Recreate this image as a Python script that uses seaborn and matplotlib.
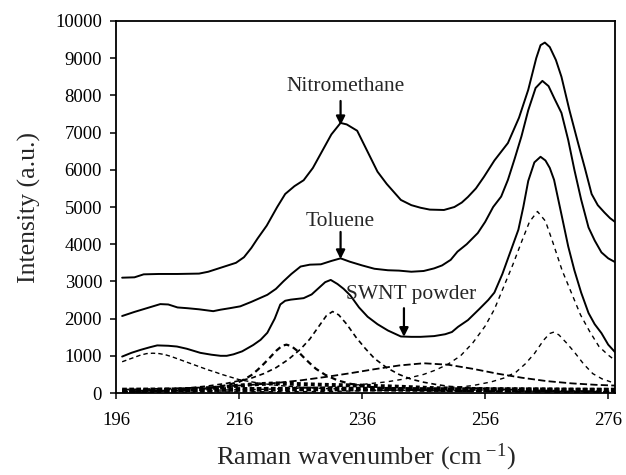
import pandas as pd
import matplotlib
matplotlib.use("Agg")
import matplotlib.pyplot as plt
from matplotlib.ticker import MultipleLocator
import seaborn as sns

# --------------------------------------------------------------------
# DATA
# --------------------------------------------------------------------
# measured spectra (solid lines)
nitro_x = [197, 199, 200.5, 203, 206, 209.5, 211, 212.5, 214, 215.5, 216.8, 218, 219, 220.5,
           222.2, 223.5, 225, 226.5, 228, 229.5, 231, 232.5, 233.5, 235.2, 237, 238.5, 240,
           242.3, 244, 245.5, 247, 249.3, 251, 252.2, 253.2, 254.5, 255.8, 257.5, 259.7,
           261.5, 263, 264.3, 265, 265.7, 266.5, 267.5, 268.4, 269.7, 271.1, 272.2, 273.3,
           274.3, 275.4, 276.3, 277.1]
nitro_y = [3100, 3110, 3190, 3200, 3200, 3210, 3260, 3340, 3420, 3500, 3650, 3900, 4150, 4500,
           5000, 5350, 5560, 5720, 6050, 6500, 6950, 7260, 7220, 7050, 6450, 5950, 5620,
           5190, 5050, 4980, 4930, 4920, 5000, 5120, 5270, 5500, 5810, 6250, 6720,
           7400, 8150, 9000, 9350, 9420, 9300, 8950, 8500, 7600, 6720, 6050, 5350,
           5050, 4850, 4700, 4600]

tol_x = [197, 199, 201, 203.2, 204.5, 206, 207.6, 209.5, 211.8, 213, 214.5, 216.2, 218, 220.6,
         222, 223.2, 224.5, 226, 227.5, 229.3, 231, 232.5, 234, 236, 238, 240.2, 242, 244,
         246, 247.7, 249, 250.4, 251.5, 253, 254.8, 256, 257.3, 258.6, 259.7, 260.8, 261.9,
         263, 264.2, 265.3, 266.3, 267.3, 268.4, 269.5, 270.5, 271.6, 272.8, 273.8, 274.9,
         276, 277.1]
tol_y = [2070, 2180, 2280, 2390, 2380, 2300, 2280, 2250, 2200, 2240, 2280, 2330, 2450, 2640,
         2800, 3000, 3200, 3400, 3450, 3460, 3550, 3620, 3530, 3430, 3340, 3300, 3290, 3260,
         3280, 3350, 3430, 3580, 3800, 4000, 4300, 4600, 5000, 5280, 5730, 6300, 6900,
         7600, 8200, 8390, 8250, 7900, 7530, 6800, 6000, 5200, 4450, 4100, 3780,
         3620, 3520]

swnt_x = [197, 198.5, 200, 201.5, 202.7, 204.5, 205.9, 207.5, 209.7, 211.5, 213, 214, 215.1,
          216.5, 218.3, 219.5, 220.6, 221.8, 222.7, 223.5, 224.4, 226.5, 227.8, 228.8, 230,
          230.9, 232, 233, 234.1, 235.5, 236.9, 238.5, 240.2, 242.3, 244, 245.5, 247.7, 249.5,
          250.6, 251.6, 253.2, 255, 256.5, 257.5, 258.8, 260, 261.4, 262.2, 263, 264, 265,
          265.8, 266.5, 267.2, 268.4, 269.5, 270.5, 271.6, 272.8, 273.8, 274.9, 276, 277.1]
swnt_y = [980, 1080, 1160, 1230, 1280, 1270, 1250, 1190, 1080, 1030, 1000, 1000, 1040,
          1120, 1290, 1430, 1620, 2000, 2380, 2480, 2510, 2550, 2650, 2800, 2980,
          3040, 2930, 2800, 2620, 2300, 2050, 1850, 1680, 1520, 1510, 1510, 1530, 1580,
          1640, 1780, 1960, 2250, 2500, 2700, 3200, 3750, 4390, 5000, 5700, 6200, 6350,
          6250, 6050, 5730, 4800, 3940, 3300, 2700, 2150, 1850, 1610, 1300, 1100]

# fitted components (dashed lines)
c1_x = [197, 198, 199, 200, 201, 202, 203, 204, 205, 206, 207, 208, 209, 210, 211, 212, 213,
        214, 215, 216, 218, 220, 222, 224, 226, 230, 235, 240, 250, 260, 277.1]
c1_y = [840, 900, 960, 1020, 1060, 1070, 1060, 1030, 980, 920, 860, 800, 740, 680, 620, 570,
        510, 460, 410, 360, 300, 250, 210, 180, 160, 120, 100, 80, 60, 50, 40]

c2_x = [197, 204, 210, 212, 214, 216, 217, 218, 219, 220, 221, 222, 223, 223.7, 224.5, 225.5,
        226.5, 227.5, 228.5, 230, 232, 234, 237, 240, 245, 250, 260, 277.1]
c2_y = [30, 60, 110, 150, 210, 300, 380, 480, 620, 780, 950, 1130, 1270, 1300, 1260, 1130,
        960, 800, 650, 490, 340, 250, 170, 120, 80, 60, 40, 20]

c3_x = [197, 200, 204, 208, 211, 214, 216, 218, 220, 222, 224, 226, 227.5, 229, 230.2, 231.2,
        232.2, 233.5, 235, 236.5, 238, 240, 242, 244, 246, 248, 250, 254, 258, 265, 277.1]
c3_y = [50, 65, 90, 140, 190, 260, 330, 400, 520, 680, 900, 1180, 1450, 1800, 2080, 2190,
        2100, 1850, 1500, 1200, 930, 680, 500, 370, 290, 230, 180, 130, 100, 70, 40]

c4_x = [197, 205, 212, 218, 222, 226, 230, 234, 238, 242, 246, 250, 254, 258, 262, 266, 270,
        274, 277.1]
c4_y = [90, 120, 160, 220, 270, 340, 430, 530, 640, 740, 800, 760, 650, 520, 410, 320, 260,
        220, 200]

c5_x = [197, 210, 220, 230, 236, 240, 243, 246, 248, 250, 252, 254, 256, 257.5, 259, 260.5,
        262, 263.2, 264.5, 265.8, 267, 268.5, 270, 271.5, 273, 274.5, 276, 277.1]
c5_y = [50, 70, 100, 150, 230, 300, 380, 500, 620, 780, 1000, 1350, 1800, 2250, 2850, 3450,
        4100, 4600, 4880, 4620, 4050, 3300, 2700, 2100, 1650, 1250, 1020, 880]

c6_x = [197, 230, 245, 250, 254, 257, 259, 261, 262.5, 264, 265.5, 266.5, 267.2, 268, 269.2,
        270.5, 272, 273.5, 275, 277.1]
c6_y = [20, 40, 90, 130, 200, 300, 400, 560, 780, 1060, 1420, 1600, 1640, 1560, 1350,
        1100, 780, 520, 380, 260]

b1_x = [197, 210, 220, 230, 240, 250, 260, 270, 277.1]
b1_y = [80, 90, 100, 110, 100, 90, 90, 80, 80]

b2_x = [197, 205, 210, 214, 218, 222, 226, 230, 236, 242, 248, 254, 262, 270, 277.1]
b2_y = [40, 60, 110, 170, 230, 260, 240, 220, 200, 170, 130, 110, 100, 90, 80]

x_ticks = [196, 216, 236, 256, 276]

# --------------------------------------------------------------------
# STYLE
# --------------------------------------------------------------------
sns.set_theme(style="ticks")
plt.rcParams["font.family"] = ["Liberation Serif", "DejaVu Serif"]
plt.rcParams["mathtext.fontset"] = "custom"
plt.rcParams["mathtext.rm"] = "Liberation Serif"
plt.rcParams["mathtext.it"] = "Liberation Serif:italic"

fig = plt.figure(figsize=(6.26, 4.75), dpi=100)
ax = fig.add_axes([0.1853, 0.1726, 0.7971, 0.7832])

solid = [(nitro_x, nitro_y), (tol_x, tol_y), (swnt_x, swnt_y)]
for xs, ys in solid:
    sns.lineplot(x=xs, y=ys, ax=ax, color="black", linewidth=1.4, sort=False)

dashed = [
    (c1_x, c1_y, (0, (3.2, 2.2)), 1.0),
    (c2_x, c2_y, (0, (2.6, 1.8)), 1.6),
    (c3_x, c3_y, (0, (3.0, 2.2)), 1.2),
    (c4_x, c4_y, (0, (4.0, 1.8)), 1.3),
    (c5_x, c5_y, (0, (3.2, 3.0)), 1.0),
    (c6_x, c6_y, (0, (3.2, 3.0)), 1.0),
    (b1_x, b1_y, (0, (1.0, 0.5)), 3.4),
    (b2_x, b2_y, (0, (1.0, 0.8)), 2.8),
]
for xs, ys, dash, lw in dashed:
    line = sns.lineplot(x=xs, y=ys, ax=ax, color="black", linewidth=lw, sort=False)
    line.lines[-1].set_linestyle(dash)

# --------------------------------------------------------------------
# ANNOTATIONS
# --------------------------------------------------------------------
arrow = dict(arrowstyle="-|>", color="black", lw=1.6, mutation_scale=13, shrinkA=0, shrinkB=0)
ax.text(233.3, 8230, "Nitromethane", ha="center", va="center", fontsize=15.5)
ax.annotate("", xy=(232.5, 7200), xytext=(232.5, 7850), arrowprops=arrow)
ax.text(232.5, 4620, "Toluene", ha="center", va="center", fontsize=15.5)
ax.annotate("", xy=(232.5, 3600), xytext=(232.5, 4330), arrowprops=arrow)
ax.text(244.0, 2640, "SWNT powder", ha="center", va="center", fontsize=15.5)
ax.annotate("", xy=(242.8, 1510), xytext=(242.8, 2280), arrowprops=arrow)

# --------------------------------------------------------------------
# AXES
# --------------------------------------------------------------------
ax.set_xlim(196, 277.1)
ax.set_ylim(0, 10000)
ax.set_xticks(x_ticks)
ax.yaxis.set_major_locator(MultipleLocator(1000))
ax.tick_params(axis="both", direction="out", length=4, width=1.1, labelsize=13.5,
               colors="black", pad=6)
ax.tick_params(axis="x", pad=10)
for side in ["left", "right", "top", "bottom"]:
    ax.spines[side].set_visible(True)
    ax.spines[side].set_linewidth(1.3)
    ax.spines[side].set_color("black")

ax.set_xlabel(r"Raman wavenumber (cm$^{\ \mathregular{-1}}$)", fontsize=19, labelpad=9)
ax.set_ylabel("Intensity (a.u.)", fontsize=18.5, labelpad=10)

fig.savefig("out.png", dpi=100)
plt.close(fig)
